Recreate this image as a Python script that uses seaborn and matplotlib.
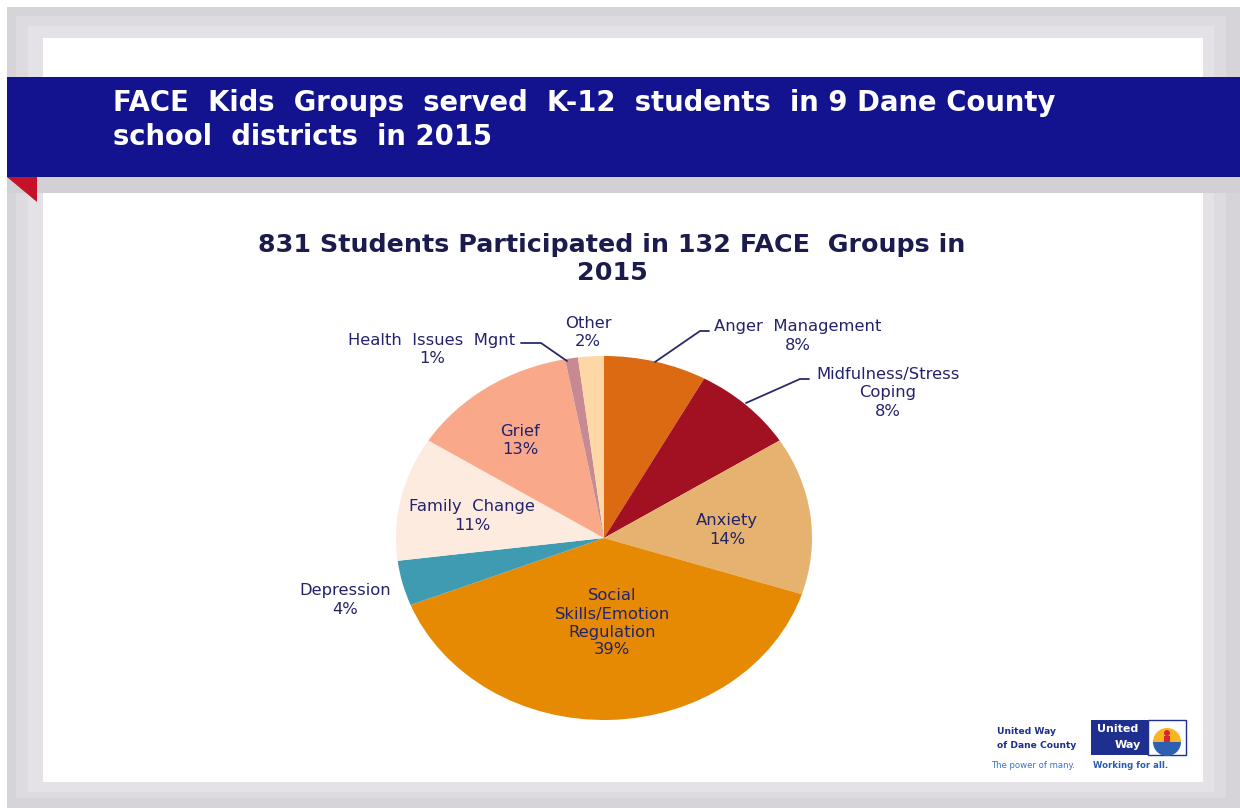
import matplotlib
matplotlib.use("Agg")
import matplotlib.pyplot as plt
import seaborn as sns
from matplotlib.patches import Rectangle, Polygon, Wedge, Circle

# ---- data ----
categories = ["Anger  Management", "Midfulness/Stress\nCoping", "Anxiety",
              "Social\nSkills/Emotion\nRegulation", "Depression", "Family  Change",
              "Grief", "Health  Issues  Mgnt", "Other"]
values = [8, 8, 14, 39, 4, 11, 13, 1, 2]
colors = ["#DC6A12", "#A11122", "#E6B26F", "#E78A03", "#3F9BB2",
          "#FDEBDF", "#F9A98A", "#C88A92", "#FDD8A6"]

header_lines = ["FACE  Kids  Groups  served  K-12  students  in 9 Dane County",
                "school  districts  in 2015"]
chart_title = "831 Students Participated in 132 FACE  Groups in\n2015"

sns.set_theme(style="white")
plt.rcParams['font.family'] = ['DejaVu Sans']

W, H = 1240, 808
fig = plt.figure(figsize=(W / 100, H / 100), dpi=100)
fig.patch.set_facecolor("#ffffff")

# background frame axes in pixel coords
bg = fig.add_axes([0, 0, 1, 1])
bg.set_xlim(0, W)
bg.set_ylim(H, 0)
bg.axis("off")

# slide frame (bevel approximated by nested rectangles)
bg.add_patch(Rectangle((7, 7), W - 7, H - 7, facecolor="#d6d4d9", edgecolor="none"))
bg.add_patch(Rectangle((16, 16), W - 30, H - 26, facecolor="#dddbdf", edgecolor="none"))
bg.add_patch(Rectangle((28, 26), W - 54, H - 42, facecolor="#e4e2e6", edgecolor="none"))
bg.add_patch(Rectangle((43, 38), 1160, 744, facecolor="#ffffff", edgecolor="none"))

# header band
bg.add_patch(Rectangle((7, 177), W - 7, 16, facecolor="#d2d0d5", edgecolor="none"))
bg.add_patch(Rectangle((7, 77), W - 7, 100, facecolor="#13138F", edgecolor="none"))
bg.add_patch(Polygon([(7, 177), (37, 177), (37, 202)], closed=True,
                     facecolor="#C3122A", edgecolor="none"))
bg.text(113, 103, header_lines[0], color="white", fontsize=19.8, fontweight="bold",
        ha="left", va="center")
bg.text(113, 137, header_lines[1], color="white", fontsize=19.8, fontweight="bold",
        ha="left", va="center")

# chart title
bg.text(612, 259, chart_title, color="#1b1b4d", fontsize=18.3, fontweight="bold",
        ha="center", va="center", linespacing=1.2)

# ---- pie ----
cx, cy, rx, ry = 604, 538, 208, 182
ax = fig.add_axes([(cx - rx) / W, (H - cy - ry) / H, 2 * rx / W, 2 * ry / H])
wedges, _ = ax.pie(values, colors=colors, startangle=90, counterclock=False,
                   wedgeprops=dict(linewidth=0))
ax.set_aspect("auto")
ax.set_xlim(-1, 1)
ax.set_ylim(-1, 1)
ax.axis("off")

def px(x, y):
    return ((x - cx) / rx, (cy - y) / ry)

label_color = "#23236b"
pct = [f"{v}%" for v in values]
label_pos = [(798, 336), (888, 393), (727, 530), (612, 623), (345, 600),
             (472, 516), (520, 440), (432, 350), (588, 333)]
for name, p, (lx, ly) in zip(categories, pct, label_pos):
    ax.text(*px(lx, ly), f"{name}\n{p}", ha="center", va="center", fontsize=11.8,
            color=label_color, linespacing=1.25)

# leader lines
leaders = [
    [(655, 362), (700, 331), (709, 331)],
    [(746, 403), (800, 379), (809, 379)],
    [(567, 361), (541, 343), (521, 343)],
]
for pts in leaders:
    xs, ys = zip(*[px(x, y) for x, y in pts])
    ax.plot(xs, ys, color="#2a2a6a", lw=1.3, clip_on=False)

# ---- logo ----
bg.text(997, 731, "United Way", color="#1f2f8a", fontsize=6.6, fontweight="bold",
        ha="left", va="center")
bg.text(997, 745, "of Dane County", color="#1f2f8a", fontsize=6.6, fontweight="bold",
        ha="left", va="center")
bg.add_patch(Rectangle((1091, 720), 57, 35, facecolor="#1e2f8f", edgecolor="none"))
bg.add_patch(Rectangle((1148, 720), 38, 35, facecolor="#ffffff", edgecolor="#1e2f8f", lw=1))
bg.text(1118, 729, "United", color="white", fontsize=8, fontweight="bold",
        ha="center", va="center")
bg.text(1128, 745, "Way", color="white", fontsize=8, fontweight="bold",
        ha="center", va="center")
# in this inverted-y axes, angles 180..360 form the upper half
bg.add_patch(Wedge((1167, 742), 14, 180, 360, facecolor="#F6B521", edgecolor="none"))
bg.add_patch(Wedge((1167, 742), 14, 0, 180, facecolor="#2f5fb0", edgecolor="none"))
bg.add_patch(Circle((1167, 733), 3, facecolor="#D9262C", edgecolor="none"))
bg.add_patch(Rectangle((1164, 736), 6, 6, facecolor="#D9262C", edgecolor="none"))
bg.text(991, 766, "The power of many.", color="#3a73c4", fontsize=6.1,
        ha="left", va="center")
bg.text(1093, 766, "Working for all.", color="#2a5cb0", fontsize=6.1,
        fontweight="bold", ha="left", va="center")

fig.savefig("out.png", dpi=100, facecolor=fig.get_facecolor())
